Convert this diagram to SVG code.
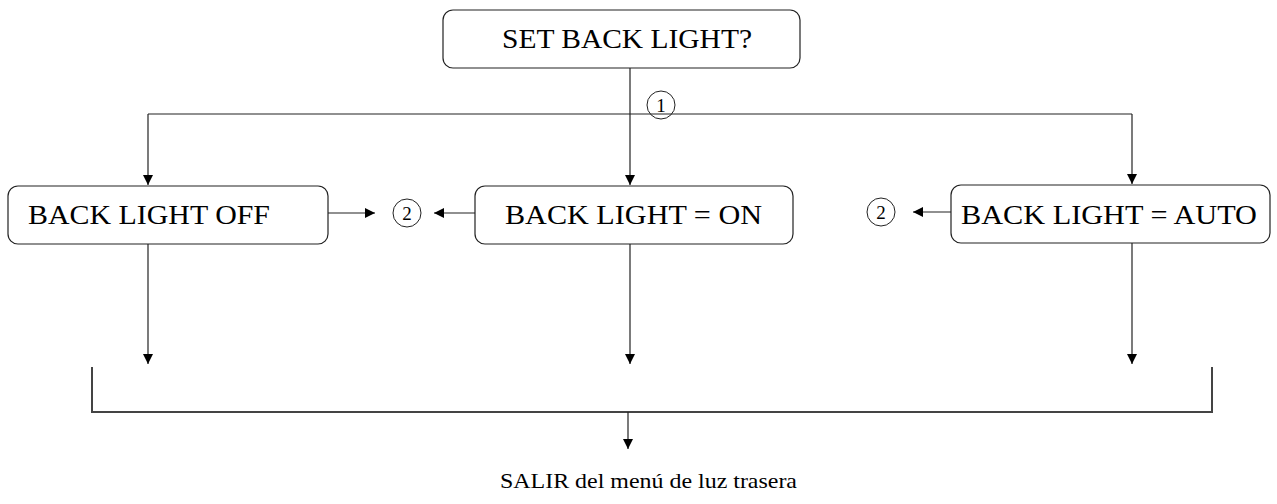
<svg xmlns="http://www.w3.org/2000/svg" width="1277" height="504" viewBox="0 0 1277 504">
  <style>
    .box { fill: #ffffff; stroke: #222222; stroke-width: 1.2; }
    .lbl { font-size: 27px; fill: #000000; }
    .num { font-size: 19px; fill: #000000; text-anchor: middle; }
    .ring { fill: none; stroke: #222222; stroke-width: 1; }
    .wire { fill: none; stroke: #222222; stroke-width: 1.2; }
    .bus { fill: none; stroke: #444444; stroke-width: 2; }
    .foot { font-size: 21px; fill: #000000; }
  </style>
  <defs>
    <marker id="head" viewBox="0 0 10 10" refX="10" refY="5" markerWidth="10" markerHeight="10" markerUnits="userSpaceOnUse" orient="auto">
      <path d="M0,0 L10,5 L0,10 Z" fill="#000000"/>
    </marker>
  </defs>

  <rect width="1277" height="504" fill="#ffffff"/>

  <g font-family="Liberation Serif, Times New Roman, serif">
    <g id="set-back-light">
      <rect class="box" x="443" y="10" width="357" height="58" rx="10" ry="10"/>
      <text class="lbl" x="502" y="48" textLength="250" lengthAdjust="spacingAndGlyphs">SET BACK LIGHT?</text>
    </g>

    <g id="back-light-off">
      <rect class="box" x="8" y="186" width="320" height="58" rx="10" ry="10"/>
      <text class="lbl" x="28" y="224" textLength="242" lengthAdjust="spacingAndGlyphs">BACK LIGHT OFF</text>
    </g>

    <g id="back-light-on">
      <rect class="box" x="475" y="186" width="318" height="58" rx="10" ry="10"/>
      <text class="lbl" x="505" y="224" textLength="257" lengthAdjust="spacingAndGlyphs">BACK LIGHT = ON</text>
    </g>

    <g id="back-light-auto">
      <rect class="box" x="951" y="185" width="319" height="58" rx="10" ry="10"/>
      <text class="lbl" x="961" y="224" textLength="296" lengthAdjust="spacingAndGlyphs">BACK LIGHT = AUTO</text>
    </g>

    <g id="step-1">
      <circle class="ring" cx="661" cy="105" r="14"/>
      <text class="num" x="661" y="112">1</text>
    </g>

    <g id="step-2-left">
      <circle class="ring" cx="407" cy="213" r="14"/>
      <text class="num" x="407" y="220">2</text>
    </g>

    <g id="step-2-right">
      <circle class="ring" cx="881" cy="212" r="14"/>
      <text class="num" x="881" y="219">2</text>
    </g>

    <g id="exit">
      <text class="foot" x="500" y="488" textLength="297" lengthAdjust="spacingAndGlyphs">SALIR del menú de luz trasera</text>
    </g>
  </g>

  <g id="connectors">
    <!-- from the question down to the branch line -->
    <path class="wire" d="M630,68 V114"/>
    <path class="wire" d="M148,114 H1132"/>
    <path class="wire" d="M148,114 V185" marker-end="url(#head)"/>
    <path class="wire" d="M630,114 V185" marker-end="url(#head)"/>
    <path class="wire" d="M1132,114 V184" marker-end="url(#head)"/>

    <!-- side exits to step 2 -->
    <path class="wire" d="M328,213 H375" marker-end="url(#head)"/>
    <path class="wire" d="M475,213 H434" marker-end="url(#head)"/>
    <path class="wire" d="M951,212 H913" marker-end="url(#head)"/>

    <!-- each option down to the exit bus -->
    <path class="wire" d="M148,244 V364" marker-end="url(#head)"/>
    <path class="wire" d="M630,244 V364" marker-end="url(#head)"/>
    <path class="wire" d="M1132,243 V364" marker-end="url(#head)"/>

    <!-- exit bus -->
    <path class="bus" d="M92,367 V412 H1212 V367"/>
    <path class="wire" d="M628,412 V449" marker-end="url(#head)"/>
  </g>
</svg>
